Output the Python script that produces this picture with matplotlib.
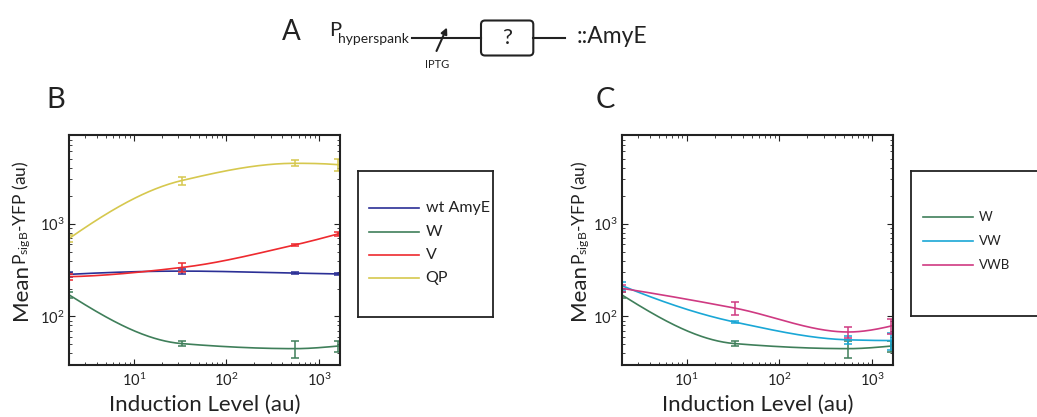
import numpy as np
import matplotlib
matplotlib.use("Agg")
import matplotlib.pyplot as plt
from matplotlib.patches import FancyBboxPatch
from matplotlib.lines import Line2D

plt.rcParams['font.family'] = ['Lato', 'DejaVu Sans']
plt.rcParams['mathtext.fontset'] = 'custom'
plt.rcParams['mathtext.rm'] = 'Lato'
plt.rcParams['mathtext.it'] = 'Lato:italic'
plt.rcParams['mathtext.bf'] = 'Lato:bold'

# IPTG induction levels (au)
induction = [2, 33, 550, 1600]

# mean P_sigB-YFP and error for each strain
wt_amye = [284, 308, 293, 287]
wt_amye_err = [15, 20, 7, 8]
w = [171, 51, 45, 48]
w_err = [14, 3.5, 9, 7]
v = [268, 337, 590, 774]
v_err = [20, 35, 12, 35]
qp = [690, 2910, 4460, 4310]
qp_err = [55, 300, 330, 650]
vw = [215, 87, 56, 55]
vw_err = [22, 2, 5, 11]
vwb = [201, 123, 68, 79]
vwb_err = [19, 20, 9, 15]

c_blue = '#2b2f96'
c_green = '#3f7f5a'
c_red = '#ee2a2f'
c_yellow = '#d6c84e'
c_cyan = '#1aa7d6'
c_magenta = '#cf3a82'

W, H = 1037, 417
fig = plt.figure(figsize=(W / 100, H / 100), dpi=100)


def px_rect(x0, y0, x1, y1):
    # pixel box (top-left origin) -> figure fraction rect
    return [x0 / W, 1 - y1 / H, (x1 - x0) / W, (y1 - y0) / H]


def smooth_loglog(x, y, n=200):
    # shape-preserving (pchip) curve through the points in log-log space
    lx = np.log10(np.asarray(x, float))
    ly = np.log10(np.asarray(y, float))
    h = np.diff(lx)
    delta = np.diff(ly) / h
    k = len(lx)
    d = np.zeros(k)
    for i in range(1, k - 1):
        if delta[i - 1] * delta[i] > 0:
            w1 = 2 * h[i] + h[i - 1]
            w2 = h[i] + 2 * h[i - 1]
            d[i] = (w1 + w2) / (w1 / delta[i - 1] + w2 / delta[i])
    for j, (a, b, ha, hb) in ((0, (delta[0], delta[1], h[0], h[1])),
                              (k - 1, (delta[-1], delta[-2], h[-1], h[-2]))):
        e = ((2 * ha + hb) * a - ha * b) / (ha + hb)
        if np.sign(e) != np.sign(a):
            e = 0.0
        elif np.sign(a) != np.sign(b) and abs(e) > abs(3 * a):
            e = 3 * a
        d[j] = e
    t = np.linspace(lx[0], lx[-1], n)
    idx = np.clip(np.searchsorted(lx, t) - 1, 0, k - 2)
    hh = h[idx]
    s = (t - lx[idx]) / hh
    h00 = 2 * s ** 3 - 3 * s ** 2 + 1
    h10 = s ** 3 - 2 * s ** 2 + s
    h01 = -2 * s ** 3 + 3 * s ** 2
    h11 = s ** 3 - s ** 2
    yy = h00 * ly[idx] + h10 * hh * d[idx] + h01 * ly[idx + 1] + h11 * hh * d[idx + 1]
    return 10 ** t, 10 ** yy


def draw_series(ax, y, err, color):
    xs, ys = smooth_loglog(induction, y)
    ax.plot(xs, ys, color=color, lw=1.2)
    ax.errorbar(induction, y, yerr=err, fmt='none', ecolor=color,
                elinewidth=1.1, capsize=2.8, capthick=1.1)


def style_axes(ax):
    ax.set_xscale('log')
    ax.set_yscale('log')
    ax.set_xlim(2, 1680)
    ax.set_ylim(30, 9000)
    ax.tick_params(which='both', direction='in', top=True, right=True,
                   labelsize=10.5, color='#222222', labelcolor='#222222')
    ax.tick_params(which='major', length=4, width=0.8)
    ax.tick_params(which='minor', length=2.2, width=0.6)
    ax.tick_params(axis='x', pad=5)
    ax.tick_params(axis='y', pad=3)
    for sp in ax.spines.values():
        sp.set_linewidth(1.5)
        sp.set_color('#222222')
    ax.set_xlabel('Induction Level (au)', fontsize=16, color='#222222', labelpad=4)


# ---- panel B ----
axB = fig.add_axes(px_rect(69, 135, 340, 365))
draw_series(axB, wt_amye, wt_amye_err, c_blue)
draw_series(axB, w, w_err, c_green)
draw_series(axB, v, v_err, c_red)
draw_series(axB, qp, qp_err, c_yellow)
style_axes(axB)

# ---- panel C ----
axC = fig.add_axes(px_rect(621.7, 135, 893.3, 365))
draw_series(axC, w, w_err, c_green)
draw_series(axC, vw, vw_err, c_cyan)
draw_series(axC, vwb, vwb_err, c_magenta)
style_axes(axC)


def legend_box(rect, rows, ys, x_line, x_text, size):
    lg = fig.add_axes(px_rect(*rect))
    lg.set_xlim(rect[0], rect[2])
    lg.set_ylim(rect[3], rect[1])
    lg.set_xticks([])
    lg.set_yticks([])
    for sp in lg.spines.values():
        sp.set_linewidth(1.3)
        sp.set_color('#222222')
    for (label, color), yy in zip(rows, ys):
        lg.add_line(Line2D(x_line, [yy, yy], color=color, lw=1.2))
        lg.text(x_text, yy, label, fontsize=size, va='center', ha='left',
                color='#222222')


legend_box((357.7, 170.7, 493.3, 316.7),
           [('wt AmyE', c_blue), ('W', c_green), ('V', c_red), ('QP', c_yellow)],
           [208.3, 231.7, 255, 278.3], [369.3, 419.3], 425.7, 11.5)
legend_box((911, 170.7, 1070, 316),
           [('W', c_green), ('VW', c_cyan), ('VWB', c_magenta)],
           [217, 241, 265], [922.7, 972.7], 979, 9.5)

# ---- overlay for construct diagram, panel letters, y labels ----
ov = fig.add_axes([0, 0, 1, 1], zorder=-1)
ov.set_xlim(0, W)
ov.set_ylim(H, 0)
ov.axis('off')

ink = '#222222'
ov.text(282, 40, 'A', fontsize=20, ha='left', va='baseline', color=ink)
ov.text(329, 36, 'P', fontsize=14.5, ha='left', va='baseline', color=ink)
ov.text(338, 42.7, 'hyperspank', fontsize=10, ha='left', va='baseline', color=ink)
ov.plot([412, 481], [38, 38], color=ink, lw=1.5)
ov.plot([533.3, 565], [38, 38], color=ink, lw=1.5)
ov.add_patch(FancyBboxPatch((481, 20.5), 52.3, 35, boxstyle='round,pad=0,rounding_size=4',
                            fc='white', ec=ink, lw=1.5))
ov.text(507, 38, '?', fontsize=16, ha='center', va='center', color=ink)
ov.annotate('', xy=(447, 27.5), xytext=(436.5, 51),
            arrowprops=dict(arrowstyle='-|>', color=ink, lw=1.5, mutation_scale=9,
                            shrinkA=0, shrinkB=0))
ov.text(437, 64, 'IPTG', fontsize=8, ha='center', va='center', color=ink)
ov.text(577, 43, '::AmyE', fontsize=16.5, ha='left', va='baseline', color=ink)

ov.text(46, 108.3, 'B', fontsize=21, ha='left', va='baseline', color=ink)
ov.text(596, 108.3, 'C', fontsize=21, ha='left', va='baseline', color=ink)

for xb in (26.7, 585):
    ov.text(xb, 320, 'Mean', fontsize=16, rotation=90, rotation_mode='anchor',
            ha='left', va='baseline', color=ink)
    ov.text(xb, 265, r'P$_{\mathregular{sigB}}$-YFP (au)', fontsize=12.5, rotation=90,
            rotation_mode='anchor', ha='left', va='baseline', color=ink)

fig.savefig('out.png', dpi=100)
